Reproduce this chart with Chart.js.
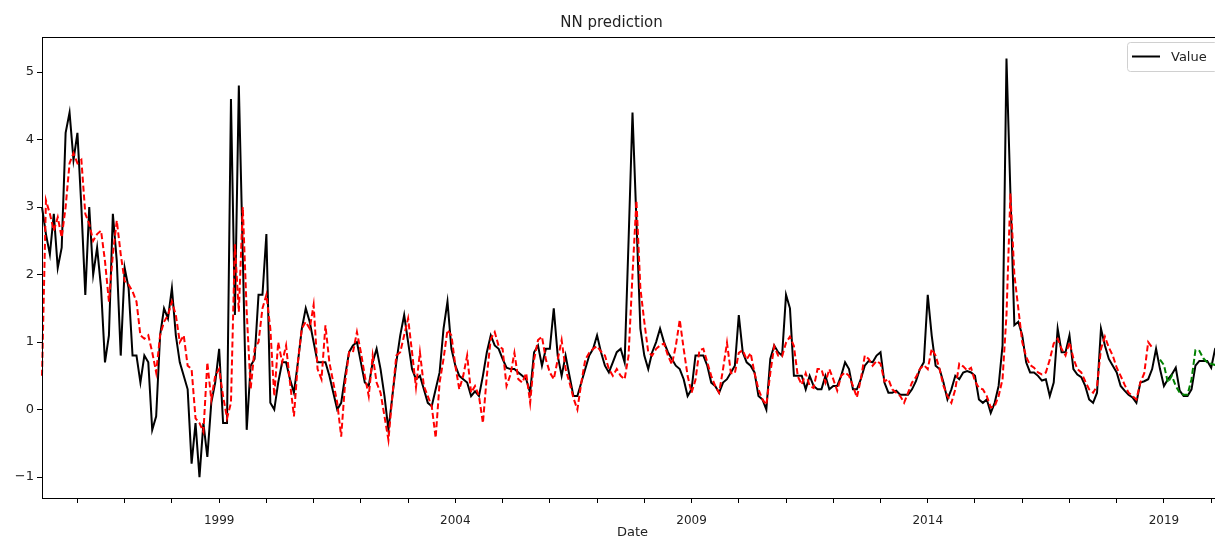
<!DOCTYPE html>
<html>
<head>
<meta charset="utf-8">
<script src="https://cdn.jsdelivr.net/npm/chart.js@4.4.1/dist/chart.umd.min.js"></script>
<style>
  html, body { margin: 0; padding: 0; background: #fff; overflow: hidden; }
  #wrap { width: 1240px; height: 539px; }
</style>
</head>
<body>
<div id="wrap"><canvas id="nnchart" width="1240" height="539"></canvas></div>
<script>
// monthly observations, first month = 1995-04
const firstYear = 1995;
const firstMonth = 4;
const monthCount = 301;

const values = [
  3.0, 2.6, 2.3, 2.9, 2.1, 2.4, 4.1, 4.4, 3.7, 4.1, 3.0, 1.7,
  3.0, 2.0, 2.4, 1.8, 0.7, 1.1, 2.9, 2.2, 0.8, 2.1, 1.8, 0.8,
  0.8, 0.4, 0.8, 0.7, -0.3, -0.1, 1.1, 1.5, 1.35, 1.8, 1.1, 0.7,
  0.5, 0.3, -0.8, -0.2, -1.0, -0.2, -0.7, 0.1, 0.4, 0.9, -0.2, -0.2,
  4.6, 1.4, 4.8, 2.3, -0.3, 0.65, 0.75, 1.7, 1.7, 2.6, 0.1, 0.0,
  0.4, 0.7, 0.7, 0.45, 0.25, 0.7, 1.2, 1.5, 1.3, 1.0, 0.7, 0.7,
  0.7, 0.5, 0.25, 0.0, 0.1, 0.5, 0.85, 0.95, 1.0, 0.7, 0.4, 0.35,
  0.7, 0.9, 0.6, 0.2, -0.3, 0.2, 0.7, 1.1, 1.4, 1.0, 0.6, 0.45,
  0.5, 0.3, 0.1, 0.05, 0.3, 0.55, 1.2, 1.6, 0.9, 0.65, 0.5, 0.45,
  0.4, 0.2, 0.27, 0.2, 0.5, 0.85, 1.1, 0.95, 0.9, 0.75, 0.62, 0.6,
  0.6, 0.55, 0.5, 0.45, 0.25, 0.85, 0.95, 0.65, 0.9, 0.9, 1.5, 0.8,
  0.5, 0.8, 0.5, 0.2, 0.2, 0.4, 0.6, 0.8, 0.9, 1.1, 0.85, 0.65,
  0.55, 0.7, 0.85, 0.9, 0.7, 2.5, 4.4, 2.8, 1.2, 0.8, 0.6, 0.85,
  1.0, 1.2, 1.0, 0.85, 0.75, 0.65, 0.6, 0.45, 0.2, 0.3, 0.8, 0.8,
  0.8, 0.65, 0.4, 0.35, 0.25, 0.4, 0.45, 0.55, 0.65, 1.4, 0.85, 0.7,
  0.65, 0.55, 0.2, 0.15, 0.0, 0.75, 0.95, 0.85, 0.8, 1.7, 1.5, 0.5,
  0.5, 0.5, 0.3, 0.5, 0.35, 0.3, 0.3, 0.5, 0.3, 0.35, 0.35, 0.5,
  0.7, 0.6, 0.3, 0.3, 0.45, 0.65, 0.72, 0.7, 0.8, 0.85, 0.4, 0.25,
  0.25, 0.28, 0.22, 0.22, 0.22, 0.3, 0.42, 0.6, 0.7, 1.7, 1.1, 0.65,
  0.6, 0.4, 0.15, 0.3, 0.5, 0.45, 0.55, 0.57, 0.55, 0.5, 0.15, 0.1,
  0.15, -0.05, 0.1, 0.35, 0.95, 5.2, 3.2, 1.25, 1.3, 1.1, 0.7, 0.55,
  0.55, 0.5, 0.43, 0.45, 0.2, 0.4, 1.2, 0.85, 0.85, 1.1, 0.6, 0.52,
  0.48, 0.35, 0.15, 0.1, 0.25, 1.2, 0.95, 0.75, 0.65, 0.55, 0.35, 0.28,
  0.22, 0.18, 0.1, 0.4, 0.42, 0.45, 0.6, 0.9, 0.6, 0.35, 0.45, 0.52,
  0.62, 0.28, 0.2, 0.2, 0.3, 0.65, 0.72, 0.72, 0.72, 0.62, 0.9, 0.95,
  0.85
];

// NN prediction on the training part (same start month)
const trainPred = [
  0.5, 3.1, 2.9, 2.65, 2.85, 2.55, 3.0, 3.65, 3.8, 3.65, 3.7, 2.9,
  2.75, 2.5, 2.6, 2.65, 2.2, 1.6, 2.3, 2.8, 2.3, 1.9, 1.85, 1.75,
  1.6, 1.1, 1.05, 1.1, 0.85, 0.55, 1.1, 1.3, 1.4, 1.6, 1.4, 1.0,
  1.1, 0.65, 0.6, -0.13, -0.2, -0.33, 0.7, 0.15, 0.5, 0.6, 0.2, -0.13,
  0.1, 2.45, 1.45, 3.0, 1.45, 0.3, 0.9, 1.0, 1.5, 1.7, 1.2, 0.2,
  1.0, 0.7, 0.95, 0.4, -0.1, 0.7, 1.2, 1.3, 1.2, 1.55, 0.6, 0.45,
  1.25, 0.7, 0.4, 0.1, -0.4, 0.4, 0.85, 0.85, 1.15, 0.85, 0.5, 0.2,
  0.8, 0.4, 0.25, -0.1, -0.45, 0.2, 0.8, 0.85, 1.1, 1.35, 0.85, 0.33,
  0.85, 0.35, 0.2, 0.05, -0.42, 0.4, 0.75, 1.18, 1.1, 0.65, 0.3, 0.5,
  0.8, 0.25, 0.35, 0.2, -0.2, 0.5, 1.05, 1.15, 0.94, 0.9, 0.35, 0.52,
  0.84, 0.45, 0.4, 0.54, 0.1, 0.74, 1.03, 1.08, 0.74, 0.55, 0.45, 0.74,
  1.03, 0.6, 0.4, 0.17, 0.0, 0.4, 0.74, 0.84, 0.9, 0.94, 0.86, 0.8,
  0.6, 0.5, 0.6, 0.5, 0.45, 0.8, 2.0, 3.1, 1.8, 1.3, 0.85, 0.8,
  0.9, 0.95, 0.98, 0.8, 0.67, 0.94, 1.33, 0.9, 0.5, 0.25, 0.44, 0.88,
  0.9, 0.7, 0.5, 0.35, 0.25, 0.6, 0.99, 0.54, 0.54, 0.84, 0.88, 0.74,
  0.84, 0.54, 0.3, 0.15, 0.07, 0.54, 0.94, 0.8, 0.79, 0.99, 1.08, 0.94,
  0.49, 0.37, 0.54, 0.35, 0.32, 0.6, 0.6, 0.4, 0.6, 0.45, 0.28, 0.5,
  0.55, 0.5, 0.35, 0.18, 0.45, 0.8, 0.75, 0.65, 0.72, 0.68, 0.42, 0.45,
  0.3, 0.25, 0.2, 0.1, 0.25, 0.4, 0.48, 0.6, 0.66, 0.6, 0.9, 0.8,
  0.6, 0.35, 0.2, 0.1, 0.3, 0.68, 0.64, 0.58, 0.62, 0.42, 0.32, 0.3,
  0.2, 0.03, 0.05, 0.2, 0.45, 1.4, 3.2, 2.0, 1.5, 1.0, 0.78, 0.66,
  0.62, 0.55, 0.52, 0.55, 0.74, 0.98, 1.05, 0.9, 0.8, 1.0, 0.76, 0.6,
  0.55, 0.42, 0.3, 0.25, 0.35, 0.9, 1.08, 0.92, 0.8, 0.62, 0.5, 0.37,
  0.25, 0.2, 0.15, 0.4, 0.54, 1.0, 0.92
];

// NN prediction on the test part
const testStart = '2018-12';
const testPred = [0.74, 0.66, 0.4, 0.5, 0.35, 0.25, 0.22, 0.22, 0.45, 0.88, 0.87, 0.76, 0.7, 0.68, 0.66, 0.7, 0.75];

const majorYears = [1999, 2004, 2009, 2014, 2019];

// month labels YYYY-MM
const months = [];
for (let i = 0; i < monthCount; i++) {
  const m = firstMonth - 1 + i;
  const y = firstYear + Math.floor(m / 12);
  months.push(y + '-' + String(m % 12 + 1).padStart(2, '0'));
}

const testOffset = months.indexOf(testStart);
const testData = new Array(testOffset).fill(null).concat(testPred);

// axes frame + legend box like matplotlib
const framePlugin = {
  id: 'frame',
  afterDatasetsDraw(chart) {
    const { ctx, chartArea: a } = chart;
    ctx.save();
    ctx.strokeStyle = '#000';
    ctx.lineWidth = 1;
    ctx.strokeRect(Math.round(a.left) + 0.5, Math.round(a.top) + 0.5,
      Math.round(a.right - a.left), Math.round(a.bottom - a.top));

    // legend
    const w = 90, h = 29;
    const lx = a.right - 6 - w, ly = a.top + 5;
    ctx.fillStyle = 'rgba(255,255,255,0.85)';
    ctx.strokeStyle = '#d0d0d0';
    ctx.beginPath();
    ctx.roundRect(lx + 0.5, ly + 0.5, w, h, 3);
    ctx.fill();
    ctx.stroke();
    ctx.strokeStyle = '#000';
    ctx.lineWidth = 2;
    ctx.beginPath();
    ctx.moveTo(lx + 5, ly + h / 2);
    ctx.lineTo(lx + 33, ly + h / 2);
    ctx.stroke();
    ctx.fillStyle = '#222';
    ctx.font = '13px "DejaVu Sans"';
    ctx.textBaseline = 'middle';
    ctx.fillText(chart.data.datasets[0].label, lx + 44, ly + h / 2 + 1);
    ctx.restore();
  }
};

Chart.defaults.font.family = '"DejaVu Sans", sans-serif';
Chart.defaults.color = '#222';

const ctx = document.getElementById('nnchart').getContext('2d');
new Chart(ctx, {
  type: 'line',
  data: {
    labels: months,
    datasets: [
      {
        label: 'Value',
        data: values,
        borderColor: '#000',
        borderWidth: 2,
        pointRadius: 0,
        tension: 0,
        order: 3
      },
      {
        label: 'train prediction',
        data: trainPred,
        borderColor: '#ff0000',
        borderWidth: 2,
        borderDash: [6, 3],
        pointRadius: 0,
        tension: 0,
        order: 2
      },
      {
        label: 'test prediction',
        data: testData,
        borderColor: '#008000',
        borderWidth: 2,
        borderDash: [6, 3],
        pointRadius: 0,
        tension: 0,
        order: 1
      }
    ]
  },
  options: {
    responsive: false,
    animation: false,
    devicePixelRatio: 1,
    layout: { padding: { left: 0, right: 17, top: 0, bottom: 0 } },
    plugins: {
      legend: { display: false },
      tooltip: { enabled: false },
      title: {
        display: true,
        text: 'NN prediction',
        color: '#222',
        font: { size: 15, weight: 'normal' },
        padding: { top: 14, bottom: 5 }
      }
    },
    scales: {
      x: {
        type: 'category',
        offset: false,
        grid: { drawOnChartArea: false, tickLength: 5, color: '#000' },
        border: { display: false },
        ticks: {
          autoSkip: false,
          maxRotation: 0,
          minRotation: 0,
          padding: 11,
          font: { size: 12 },
          callback: function (value) {
            const lab = this.getLabelForValue(value);
            const y = Number(lab.slice(0, 4));
            if (lab.slice(5) !== '01') return null;
            return majorYears.includes(y) ? String(y) : '';
          }
        },
        title: {
          display: true,
          text: 'Date',
          font: { size: 13, lineHeight: 1 },
          padding: { top: 0, bottom: 0 }
        },
        afterFit(scale) { scale.height = 41; }
      },
      y: {
        min: -1.31,
        max: 5.52,
        grid: { drawOnChartArea: false, tickLength: 5, color: '#000' },
        border: { display: false },
        ticks: {
          stepSize: 1,
          includeBounds: false,
          padding: 3,
          font: { size: 13 },
          callback: v => (v < 0 ? '\u2212' + Math.abs(v) : String(v))
        },
        afterFit(scale) { scale.width = 42; }
      }
    }
  },
  plugins: [framePlugin]
});
</script>
</body>
</html>
